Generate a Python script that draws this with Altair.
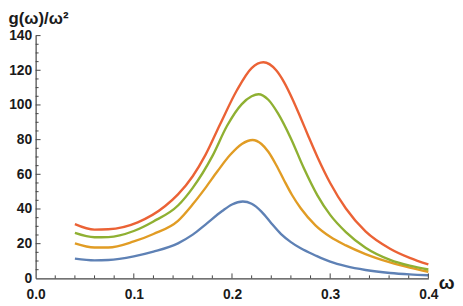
import altair as alt
import pandas as pd

# Series (omega, g(omega)/omega^2)
w_blue = [0.04, 0.06, 0.074, 0.1, 0.12, 0.145, 0.16, 0.173, 0.19, 0.2, 0.211, 0.22, 0.23, 0.24, 0.25, 0.26, 0.27, 0.285, 0.3, 0.316, 0.336, 0.361, 0.381, 0.4]
g_blue = [11.4, 10.4, 10.6, 12.7, 15.4, 20.2, 25.2, 31.0, 38.8, 42.6, 44.3, 43.0, 38.5, 31.8, 25.5, 20.9, 17.3, 13.2, 9.6, 7.0, 4.8, 3.1, 2.3, 1.8]

w_orange = [0.04, 0.06, 0.074, 0.1, 0.12, 0.145, 0.16, 0.173, 0.185, 0.198, 0.21, 0.221, 0.23, 0.237, 0.245, 0.253, 0.261, 0.27, 0.285, 0.3, 0.316, 0.336, 0.361, 0.381, 0.4]
g_orange = [20.2, 17.8, 17.8, 21.3, 25.6, 33.2, 42.7, 52.2, 61.6, 71.1, 77.5, 79.8, 77.5, 73.0, 65.4, 56.6, 48.2, 40.4, 30.6, 24.0, 19.0, 14.0, 9.2, 6.2, 3.8]

w_green = [0.04, 0.06, 0.074, 0.1, 0.12, 0.145, 0.16, 0.18, 0.195, 0.21, 0.22, 0.227, 0.237, 0.247, 0.26, 0.273, 0.287, 0.3, 0.316, 0.336, 0.361, 0.381, 0.4]
g_green = [26.2, 23.7, 23.8, 27.3, 32.8, 42.0, 52.2, 70.5, 88.0, 100.5, 105.0, 106.2, 103.0, 95.0, 80.7, 63.8, 47.9, 36.6, 26.7, 17.7, 10.7, 7.3, 5.1]

w_red = [0.04, 0.06, 0.074, 0.104, 0.132, 0.145, 0.16, 0.173, 0.188, 0.205, 0.22, 0.232, 0.245, 0.253, 0.262, 0.27, 0.278, 0.287, 0.3, 0.316, 0.336, 0.361, 0.381, 0.4]
g_red = [31.3, 28.1, 28.3, 32.3, 41.7, 48.4, 58.9, 71.2, 89.0, 108.5, 121.3, 124.6, 120.0, 113.2, 102.9, 92.5, 81.7, 70.0, 55.0, 40.3, 27.1, 17.1, 11.8, 8.0]

series_names = ["s1", "s2", "s3", "s4"]
series_colors = ["#5E81B5", "#E19C24", "#8FB032", "#EB6235"]

x_major = [0.0, 0.1, 0.2, 0.3, 0.4]
x_minor = [0.02, 0.04, 0.06, 0.08, 0.12, 0.14, 0.16, 0.18, 0.22, 0.24, 0.26, 0.28, 0.32, 0.34, 0.36, 0.38]
y_major = [0, 20, 40, 60, 80, 100, 120, 140]
y_minor = [v for v in range(0, 141, 5) if v % 20 != 0]

rows = []
for name, ws, gs in zip(series_names, [w_blue, w_orange, w_green, w_red], [g_blue, g_orange, g_green, g_red]):
    for w, g in zip(ws, gs):
        rows.append({"w": w, "g": g, "s": name})
df = pd.DataFrame(rows)

W, H = 398, 246
AX = "#444444"
TXT = "#1a1a1a"
FONT = "Liberation Sans"

xs = alt.Scale(domain=[0, 0.4], nice=False, zero=False)
ys = alt.Scale(domain=[0, 140], nice=False)

ax_x = alt.Axis(
    values=x_major, format=".1f", ticks=False, grid=False,
    labelFlush=False, labelOverlap=False,
    domainColor=AX, domainWidth=1.2, labelFont=FONT, labelFontSize=14,
    labelFontWeight="bold", labelColor=TXT, labelPadding=9,
    title="ω", titleFont=FONT, titleFontSize=19, titleFontWeight="bold",
    titleColor=TXT, titleAlign="left", titleBaseline="alphabetic",
    titleX=408, titleY=10, titleAngle=0)
ax_y = alt.Axis(
    values=y_major, format="d", ticks=False, grid=False,
    labelFlush=False, labelOverlap=False,
    domainColor=AX, domainWidth=1.2, labelFont=FONT, labelFontSize=14,
    labelFontWeight="bold", labelColor=TXT, labelPadding=4,
    title="g(ω)/ω²", titleFont=FONT, titleFontSize=17, titleFontWeight="bold",
    titleColor=TXT, titleAngle=0, titleAlign="left",
    titleBaseline="alphabetic", titleX=-28, titleY=-12)

lines = alt.Chart(df).mark_line(strokeWidth=2.4, interpolate="monotone").encode(
    x=alt.X("w:Q", scale=xs, axis=ax_x),
    y=alt.Y("g:Q", scale=ys, axis=ax_y),
    color=alt.Color("s:N", scale=alt.Scale(domain=series_names, range=series_colors), legend=None),
    detail="s:N",
)

xt_major = alt.Chart(pd.DataFrame({"w": x_major[1:]})).mark_rule(color=AX, strokeWidth=1).encode(
    x=alt.X("w:Q", scale=xs, axis=ax_x), y=alt.value(H), y2=alt.value(H - 5))
xt_minor = alt.Chart(pd.DataFrame({"w": x_minor})).mark_rule(color=AX, strokeWidth=1).encode(
    x=alt.X("w:Q", scale=xs, axis=ax_x), y=alt.value(H), y2=alt.value(H - 3))
yt_major = alt.Chart(pd.DataFrame({"g": y_major[1:]})).mark_rule(color=AX, strokeWidth=1).encode(
    y=alt.Y("g:Q", scale=ys, axis=ax_y), x=alt.value(0), x2=alt.value(5))
yt_minor = alt.Chart(pd.DataFrame({"g": y_minor})).mark_rule(color=AX, strokeWidth=1).encode(
    y=alt.Y("g:Q", scale=ys, axis=ax_y), x=alt.value(0), x2=alt.value(3))

chart = alt.layer(lines, xt_major, xt_minor, yt_major, yt_minor).properties(
    width=W, height=H,
    autosize=alt.AutoSizeParams(type="none"),
    padding={"left": 28, "top": 26, "right": 27, "bottom": 22},
).configure(background="white").configure_view(stroke=None)

chart.save("out.html", embed_options={"renderer": "svg", "actions": False})
